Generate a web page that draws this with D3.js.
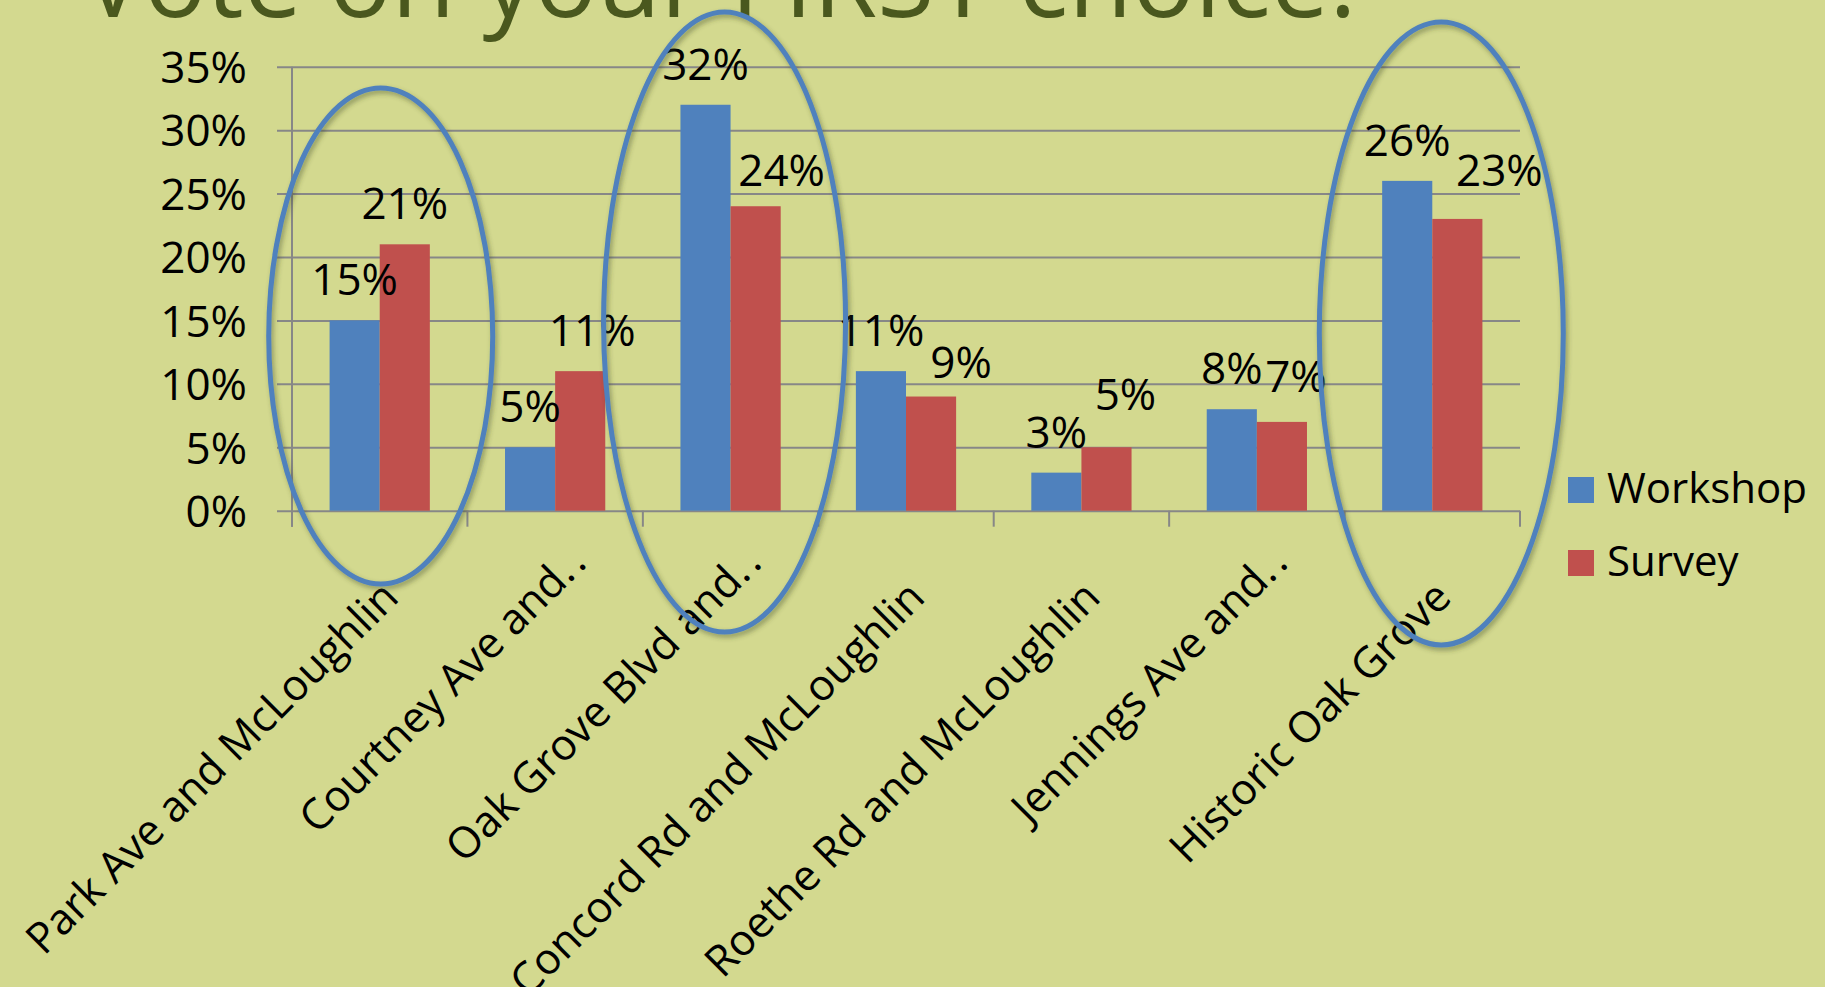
<!DOCTYPE html>
<html>
<head>
<meta charset="utf-8">
<script src="https://cdn.jsdelivr.net/npm/d3@7"></script>
<style>
  html, body { margin: 0; padding: 0; background: #d3d98f; }
  svg { display: block; }
  text { font-family: "Open Sans", "Noto Sans", sans-serif; }
</style>
</head>
<body>
<svg id="chart" width="1825" height="987"></svg>
<script>
// ---- data ----
const title = "Vote on your FIRST choice.";
const categories = [
  "Park Ave and McLoughlin",
  "Courtney Ave and..",
  "Oak Grove Blvd and..",
  "Concord Rd and McLoughlin",
  "Roethe Rd and McLoughlin",
  "Jennings Ave and..",
  "Historic Oak Grove"
];
const seriesNames = ["Workshop", "Survey"];
const workshop = [0.15, 0.05, 0.32, 0.11, 0.03, 0.08, 0.26];
const survey   = [0.21, 0.11, 0.24, 0.09, 0.05, 0.07, 0.23];
const yTicks = [0, 0.05, 0.10, 0.15, 0.20, 0.25, 0.30, 0.35];
const colors = ["#4f81bd", "#c0504d"];
// highlighted (circled) categories
const circled = ["Park Ave and McLoughlin", "Oak Grove Blvd and..", "Historic Oak Grove"];

// ---- layout / styling ----
// manual nudges of survey data labels (as placed in the original slide), px
const surveyLabelDx = [0, 12, 26, 30, 19, 14, 42];
const surveyLabelDy = [0, 0, 5, 6, -12, -5, -8];

const svg = d3.select("#chart");
const W = 1825, H = 987;
const plot = { left: 292, right: 1520, top: 66.7, bottom: 510.7 };

svg.append("rect").attr("width", W).attr("height", H).attr("fill", "#d3d98f");

const defs = svg.append("defs");
const f = defs.append("filter").attr("id", "shadow").attr("x", "-20%").attr("y", "-20%").attr("width", "140%").attr("height", "140%");
f.append("feDropShadow").attr("dx", 2).attr("dy", 3).attr("stdDeviation", 2.5)
  .attr("flood-color", "#3d4520").attr("flood-opacity", 0.45);

// title (partly cut off at top)
svg.append("text")
  .attr("x", 82).attr("y", 17)
  .attr("font-size", 104)
  .attr("fill", "#4a581e")
  .text(title);

const y = d3.scaleLinear().domain([0, 0.35]).range([plot.bottom, plot.top]);
const x0 = d3.scaleBand().domain(categories).range([plot.left, plot.right]).paddingInner(0).paddingOuter(0);
const x1 = d3.scaleBand().domain(seriesNames).range([0, x0.bandwidth()]).paddingInner(0).paddingOuter(0.75);

const fmt = d3.format(".0%");
const grid = "#878787";

// gridlines via axis
const yAxis = d3.axisLeft(y).tickValues(yTicks).tickFormat(fmt)
  .tickSize(-(plot.right - plot.left)).tickPadding(0);
const gy = svg.append("g").attr("transform", `translate(${plot.left},0)`).call(yAxis);
gy.select(".domain").remove();
gy.selectAll(".tick line").attr("stroke", grid).attr("stroke-width", 2).attr("x1", -15);
gy.selectAll(".tick text").attr("x", -45).attr("dy", "0.36em")
  .attr("font-size", 44).attr("fill", "#000").attr("text-anchor", "end");

// vertical axis line
svg.append("line").attr("x1", plot.left).attr("x2", plot.left)
  .attr("y1", plot.top).attr("y2", plot.bottom + 16)
  .attr("stroke", grid).attr("stroke-width", 2);

// category ticks
const boundaries = categories.map(c => x0(c) + x0.bandwidth()).concat([plot.left]);
svg.selectAll("line.ctick").data(boundaries).join("line").attr("class", "ctick")
  .attr("x1", d => d).attr("x2", d => d)
  .attr("y1", plot.bottom).attr("y2", plot.bottom + 16)
  .attr("stroke", grid).attr("stroke-width", 2);

// bars
const rows = categories.map((c, i) => ({ cat: c, i, vals: [
  { s: seriesNames[0], v: workshop[i], c: colors[0], dx: 0, dy: 0 },
  { s: seriesNames[1], v: survey[i], c: colors[1], dx: surveyLabelDx[i], dy: surveyLabelDy[i] }
]}));
const groups = svg.selectAll("g.grp").data(rows).join("g").attr("class", "grp")
  .attr("transform", d => `translate(${x0(d.cat)},0)`);
groups.selectAll("rect").data(d => d.vals).join("rect")
  .attr("x", d => x1(d.s)).attr("width", x1.bandwidth())
  .attr("y", d => y(d.v)).attr("height", d => y(0) - y(d.v))
  .attr("fill", d => d.c);
groups.selectAll("text.lbl").data(d => d.vals).join("text").attr("class", "lbl")
  .attr("x", d => x1(d.s) + x1.bandwidth() / 2 + d.dx)
  .attr("y", d => y(d.v) - 25 + d.dy)
  .attr("text-anchor", "middle")
  .attr("font-size", 44).attr("fill", "#000")
  .text(d => fmt(d.v));

// x labels, rotated
const xl = svg.selectAll("text.xl").data(categories).join("text").attr("class", "xl")
  .attr("text-anchor", "end")
  .attr("font-size", 43).attr("fill", "#000")
  .attr("transform", d => {
    const trunc = d.endsWith("..");
    const cx = x0(d) + x0.bandwidth() / 2;
    return trunc
      ? `translate(${cx + 33},${plot.bottom + 54}) rotate(-45)`
      : `translate(${cx + 21},${plot.bottom + 89}) rotate(-45)`;
  });
xl.each(function(d) {
  const t = d3.select(this);
  if (d.endsWith("..")) {
    t.append("tspan").text(d.slice(0, -2) + ".");
    t.append("tspan").attr("dx", 4.5).text(".");
  } else {
    t.text(d);
  }
});

// ellipses around highlighted categories
const ell = [
  { cat: circled[0], dx: 1, top: 88, bottom: 584, rx: 112 },
  { cat: circled[1], dx: -6, top: 12, bottom: 632, rx: 121 },
  { cat: circled[2], dx: 9, top: 22, bottom: 645, rx: 122 }
];
svg.selectAll("ellipse.hl").data(ell).join("ellipse").attr("class", "hl")
  .attr("cx", d => x0(d.cat) + x0.bandwidth() / 2 + d.dx)
  .attr("cy", d => (d.top + d.bottom) / 2)
  .attr("rx", d => d.rx).attr("ry", d => (d.bottom - d.top) / 2)
  .attr("fill", "none").attr("stroke", "#4f81bd").attr("stroke-width", 5)
  .attr("filter", "url(#shadow)");

// legend
const lg = svg.append("g").attr("transform", "translate(1568,477)");
const li = lg.selectAll("g").data(seriesNames).join("g")
  .attr("transform", (d, i) => `translate(0,${i * 73})`);
li.append("rect").attr("width", 26).attr("height", 26).attr("fill", (d, i) => colors[i]);
li.append("text").attr("x", 39).attr("y", 26).attr("font-size", 42).attr("fill", "#000").text(d => d);
</script>
</body>
</html>
